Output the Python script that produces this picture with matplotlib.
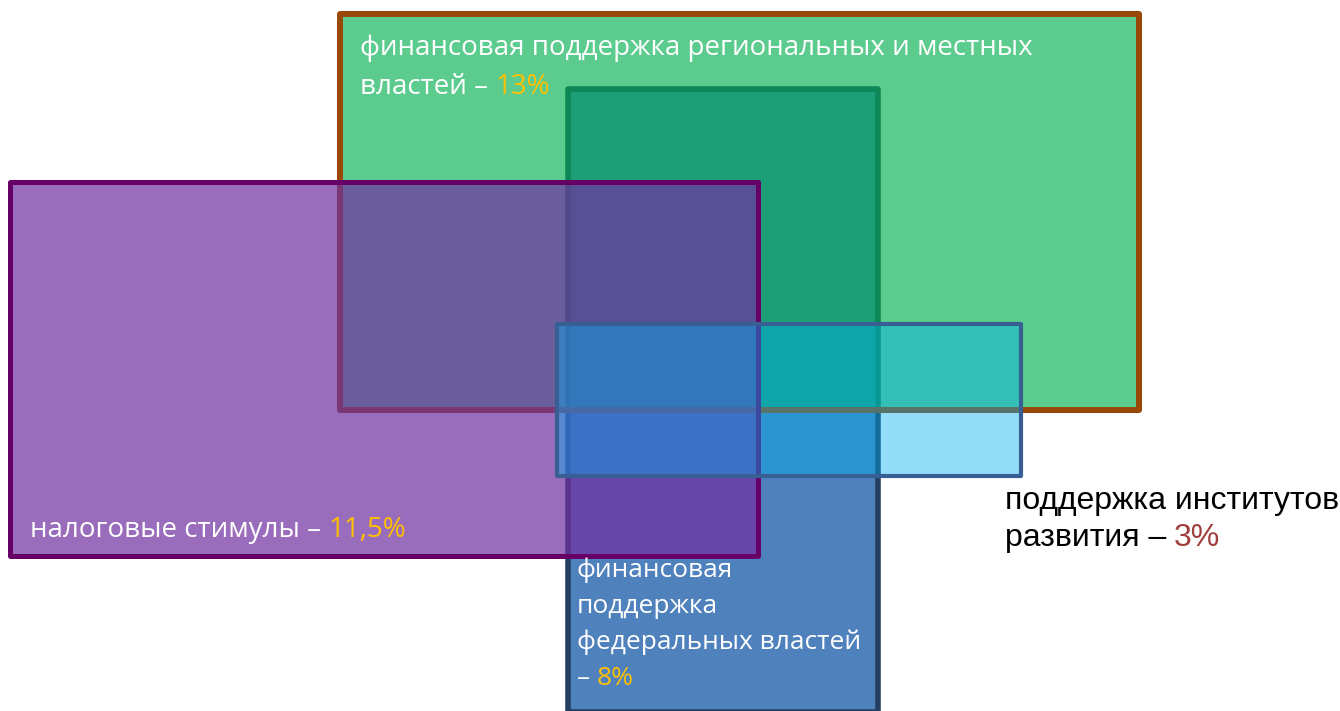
import matplotlib.pyplot as plt
from matplotlib.patches import Rectangle

# data
labels = [
    ["финансовая поддержка региональных и местных", "властей –"],
    ["налоговые стимулы –"],
    ["финансовая", "поддержка", "федеральных властей", "–"],
    ["поддержка институтов", "развития –"],
]
shares = ["13%", "11,5%", "8%", "3%"]

# layout (pixels, origin top-left): x0, y0, x1, y1
boxes = [
    (340, 14, 1139, 410),
    (10, 182, 758, 556),
    (568, 89, 878, 712),
    (557, 324, 1021, 476),
]
face = [(0.0, 0.69, 0.31, 0.64), (0.44, 0.19, 0.63, 0.71),
        (0.31, 0.506, 0.741, 1.0), (0.0, 0.69, 0.94, 0.42)]
edge = ['#984807', '#660066', '#243F60', '#385F93']
lw = [4.3, 3.6, 4.0, 3.0]
zord = [2, 3, 1, 4]

text_xy = [(360, 55), (30, 537), (577, 577), (1005, 509)]
line_gap = [39, 37, 36, 37]
text_col = ['white', 'white', 'white', 'black']
pct_col = ['#FFC000', '#FFC000', '#FFC000', '#A0403C']
fonts = ['Open Sans', 'Open Sans', 'Open Sans', 'Liberation Sans']
fsize = [20, 20, 19, 23]

fig = plt.figure(figsize=(13.4, 7.11), dpi=100)
ax = fig.add_axes([0, 0, 1, 1])
ax.set_xlim(0, 1340)
ax.set_ylim(711, 0)
ax.axis('off')

for i, (x0, y0, x1, y1) in enumerate(boxes):
    ax.add_patch(Rectangle((x0, y0), x1 - x0, y1 - y0, facecolor=face[i],
                           edgecolor=edge[i], linewidth=lw[i],
                           joinstyle='round', zorder=zord[i]))

for i, lines in enumerate(labels):
    x, y = text_xy[i]
    last = None
    for j, ln in enumerate(lines):
        last = ax.text(x, y + j * line_gap[i], ln, color=text_col[i],
                       fontsize=fsize[i], family=fonts[i],
                       ha='left', va='baseline', zorder=10)
    ax.annotate(shares[i], xy=(1, 0), xycoords=last, xytext=(5, 0),
                textcoords='offset points', color=pct_col[i],
                fontsize=fsize[i], family=fonts[i],
                ha='left', va='bottom', zorder=10)

fig.savefig('out.png', dpi=100)
